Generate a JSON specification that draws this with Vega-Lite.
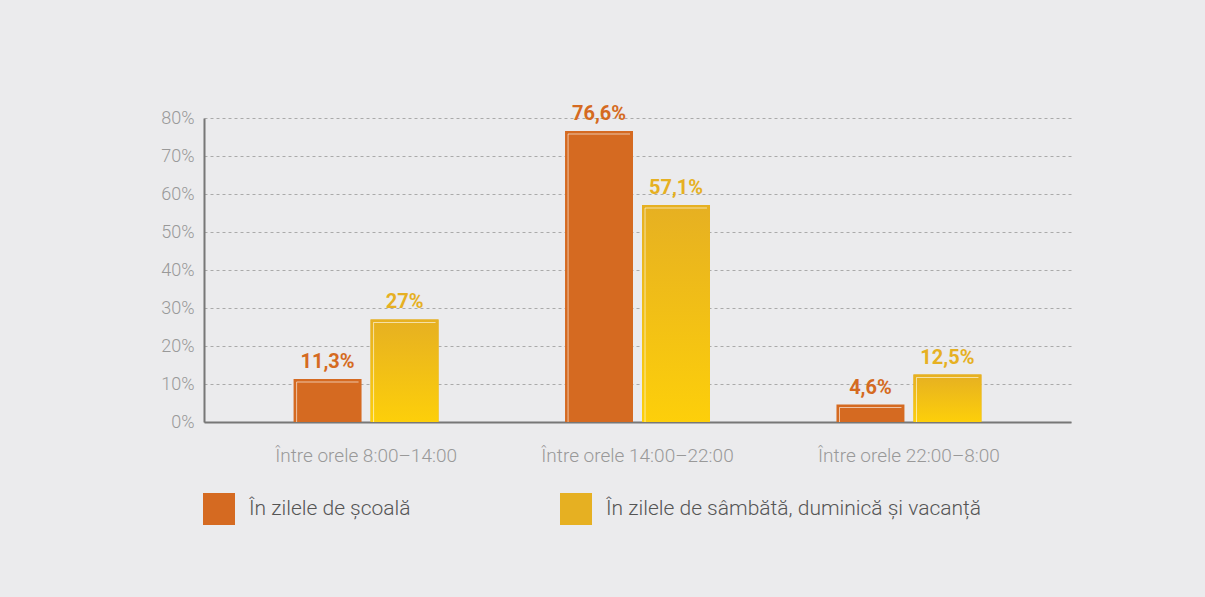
{
  "$schema": "https://vega.github.io/schema/vega-lite/v6.json",
  "autosize": "none",
  "width": 867,
  "height": 304,
  "padding": {"left": 204, "top": 118, "right": 134, "bottom": 175},
  "background": "#ebebed",
  "config": {
    "view": {"stroke": null},
    "font": "Roboto"
  },
  "data": {
    "values": [
      {"cat": "Între orele 8:00–14:00", "serie": "În zilele de școală", "value": 11.3, "label": "11,3%"},
      {"cat": "Între orele 8:00–14:00", "serie": "În zilele de sâmbătă, duminică și vacanță", "value": 27, "label": "27%"},
      {"cat": "Între orele 14:00–22:00", "serie": "În zilele de școală", "value": 76.6, "label": "76,6%"},
      {"cat": "Între orele 14:00–22:00", "serie": "În zilele de sâmbătă, duminică și vacanță", "value": 57.1, "label": "57,1%"},
      {"cat": "Între orele 22:00–8:00", "serie": "În zilele de școală", "value": 4.6, "label": "4,6%"},
      {"cat": "Între orele 22:00–8:00", "serie": "În zilele de sâmbătă, duminică și vacanță", "value": 12.5, "label": "12,5%"}
    ]
  },
  "encoding": {
    "x": {
      "field": "cat", "type": "nominal", "sort": null, "title": null,
      "scale": {"paddingInner": 0.466, "paddingOuter": 0.33},
      "axis": {"labelAngle": 0, "ticks": false, "domainColor": "#777777", "domainWidth": 2, "labelColor": "#999999", "labelFontSize": 19, "labelFontWeight": 300, "labelPadding": 24, "labelLimit": 400, "grid": false}
    },
    "y": {
      "field": "value", "type": "quantitative", "title": null,
      "scale": {"domain": [0, 80], "nice": false},
      "axis": {"values": [0, 10, 20, 30, 40, 50, 60, 70, 80], "labelExpr": "datum.value + '%'", "ticks": false, "domainColor": "#777777", "domainWidth": 2, "gridColor": "#aaaaaa", "gridDash": [3, 3], "gridWidth": 1, "labelColor": "#999999", "labelFontSize": 18, "labelFontWeight": 300, "labelPadding": 10}
    }
  },
  "layer": [
    {
      "mark": {"type": "bar"},
      "encoding": {
        "xOffset": {
          "field": "serie", "type": "nominal",
          "scale": {"domain": ["În zilele de școală", "În zilele de sâmbătă, duminică și vacanță"], "paddingInner": 0.117, "paddingOuter": 0}
        },
        "color": {
          "field": "serie", "type": "nominal", "title": null,
          "scale": {"domain": ["În zilele de școală", "În zilele de sâmbătă, duminică și vacanță"], "range": ["#d56a21", "#e6b022"]},
          "legend": {"orient": "none", "legendX": -1, "legendY": 375, "direction": "horizontal", "padding": 0, "symbolType": "square", "symbolSize": 1024, "symbolStrokeWidth": 0, "symbolOpacity": 1, "labelFontSize": 21, "labelFontWeight": 300, "labelColor": "#555555", "labelOffset": 14, "columnPadding": 149, "labelLimit": 600}
        }
      }
    },
    {
      "transform": [{"filter": "datum.serie !== 'În zilele de școală'"}],
      "mark": {"type": "bar", "fill": {"gradient": "linear", "x1": 0, "y1": 0, "x2": 0, "y2": 1, "stops": [{"offset": 0, "color": "#e6b022"}, {"offset": 1, "color": "#fdcf0a"}]}},
      "encoding": {
        "xOffset": {
          "field": "serie", "type": "nominal",
          "scale": {"domain": ["În zilele de școală", "În zilele de sâmbătă, duminică și vacanță"], "paddingInner": 0.117, "paddingOuter": 0}
        }
      }
    },
    {
      "transform": [{"filter": "datum.serie === 'În zilele de școală'"}],
      "mark": {"type": "rule", "color": "#ffffff", "opacity": 0.6, "strokeWidth": 1, "yOffset": 3},
      "encoding": {
        "x": {"field": "cat", "type": "nominal", "sort": null, "bandPosition": 0.021},
        "y2": {"datum": 0}
      }
    },
    {
      "transform": [{"filter": "datum.serie !== 'În zilele de școală'"}],
      "mark": {"type": "rule", "color": "#ffffff", "opacity": 0.6, "strokeWidth": 1, "yOffset": 3},
      "encoding": {
        "x": {"field": "cat", "type": "nominal", "sort": null, "bandPosition": 0.552},
        "y2": {"datum": 0}
      }
    },
    {
      "mark": {"type": "tick", "orient": "horizontal", "color": "#ffffff", "opacity": 0.6, "thickness": 1, "size": 62, "yOffset": 3},
      "encoding": {
        "xOffset": {
          "field": "serie", "type": "nominal",
          "scale": {"domain": ["În zilele de școală", "În zilele de sâmbătă, duminică și vacanță"], "paddingInner": 0.117, "paddingOuter": 0}
        }
      }
    },
    {
      "mark": {"type": "text", "baseline": "bottom", "dy": -7, "fontSize": 20, "fontWeight": "bold", "font": "Roboto"},
      "encoding": {
        "xOffset": {
          "field": "serie", "type": "nominal",
          "scale": {"domain": ["În zilele de școală", "În zilele de sâmbătă, duminică și vacanță"], "paddingInner": 0.117, "paddingOuter": 0}
        },
        "text": {"field": "label"},
        "color": {"field": "serie", "type": "nominal", "legend": null}
      }
    }
  ]
}
